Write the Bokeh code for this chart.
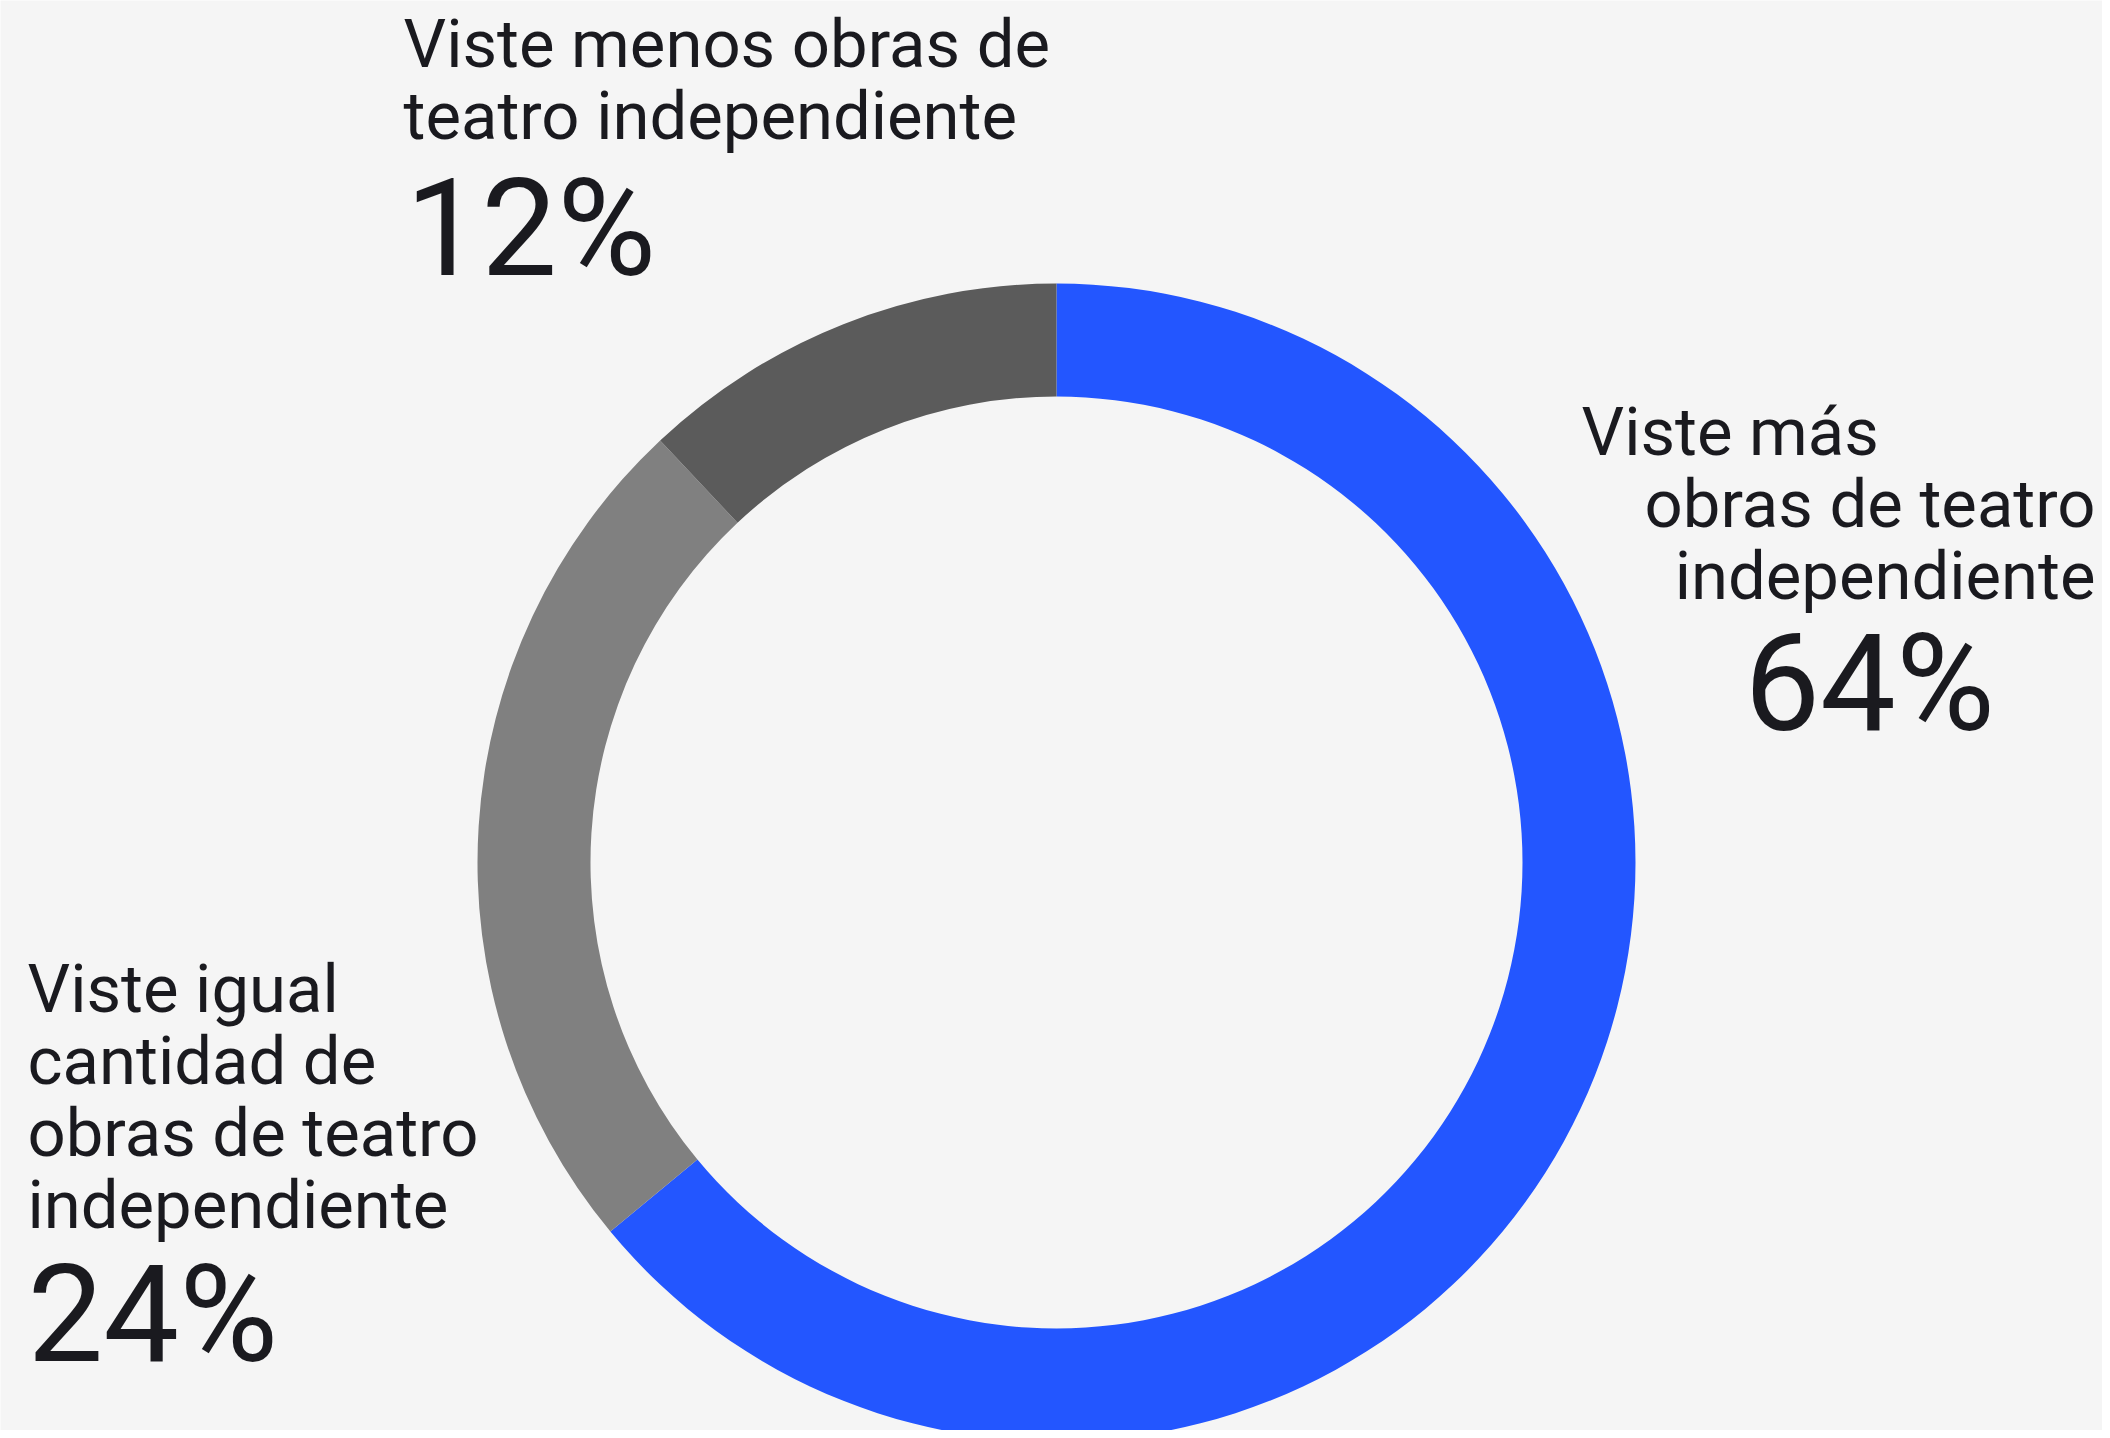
import numpy as np
from bokeh.plotting import figure
from bokeh.models import Range1d, ColumnDataSource
from bokeh.core.properties import value
from bokeh.embed import file_html
from bokeh.resources import INLINE

# ---- data ----
categories = ["Viste más obras de teatro independiente",
              "Viste igual cantidad de obras de teatro independiente",
              "Viste menos obras de teatro independiente"]
shares = [64, 24, 12]
pct_labels = ["64%", "24%", "12%"]
label_lines = [
    ["Viste más", "obras de teatro", "independiente"],
    ["Viste igual", "cantidad de", "obras de teatro", "independiente"],
    ["Viste menos obras de", "teatro independiente"],
]

# ---- style ----
colors = ["#2356FF", "#808080", "#5B5B5B"]
BG = "#F5F5F5"
INK = "#1A1A1F"
FONT = "Roboto"

W, H = 2102, 1430
p = figure(width=W, height=H, output_backend="svg", toolbar_location=None,
           x_range=Range1d(0, W), y_range=Range1d(-H, 0),
           x_axis_location=None, y_axis_location=None, min_border=0,
           background_fill_color=BG, border_fill_color=BG, outline_line_color=None)
p.grid.visible = False

# donut
cx, cy = 1056, -862
r_in, r_out = 466, 579
frac = np.array(shares, dtype=float) / sum(shares)
cum = np.concatenate([[0], np.cumsum(frac)])
start = np.pi / 2 - 2 * np.pi * cum[1:]
end = np.pi / 2 - 2 * np.pi * cum[:-1]
src = ColumnDataSource(dict(x=[cx] * len(shares), y=[cy] * len(shares),
                            start=start, end=end, color=colors, cat=categories))
p.annular_wedge(x="x", y="y", inner_radius=r_in, outer_radius=r_out,
                start_angle="start", end_angle="end", direction="anticlock",
                fill_color="color", line_color=None, source=src)

LS = 72
SMALL, BIG = 67, 135

def add_text(xs, baselines, texts, size, align):
    # compensate for where the renderer places the baseline
    ys = [-(b - 0.35 * size) for b in baselines]
    p.text(x=xs, y=ys, text=texts, text_font=value(FONT),
           text_font_size=f"{size}px", text_color=INK, text_align=align,
           text_baseline="alphabetic")

# right label (64%)
add_text([1581], [455], [label_lines[0][0]], SMALL, "left")
add_text([2095, 2095], [455 + LS, 455 + 2 * LS], label_lines[0][1:], SMALL, "right")
add_text([1869], [731], [pct_labels[0]], BIG, "center")

# left label (24%)
add_text([27] * 4, [1012 + i * LS for i in range(4)], label_lines[1], SMALL, "left")
add_text([27], [1362], [pct_labels[1]], BIG, "left")

# top label (12%)
add_text([403] * 2, [67 + i * LS for i in range(2)], label_lines[2], SMALL, "left")
add_text([405], [276], [pct_labels[2]], BIG, "left")

open("out.html", "w").write(file_html(p, INLINE))
